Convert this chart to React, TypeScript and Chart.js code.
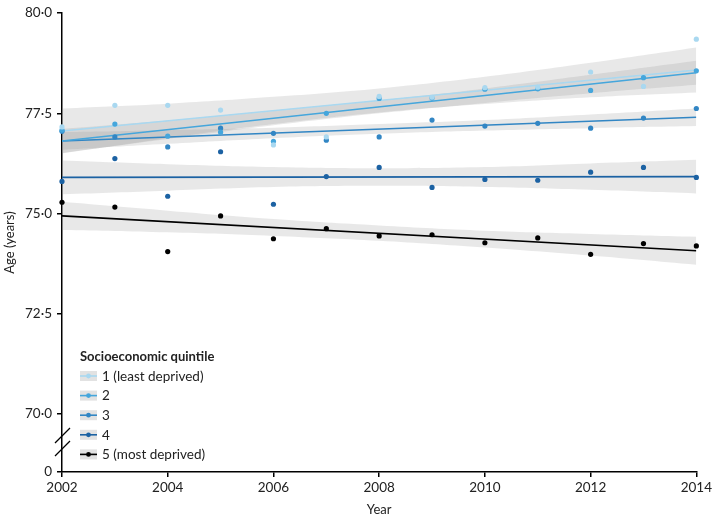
import { useEffect, useRef } from "react";
import { Chart, registerables, type ChartConfiguration, type Plugin } from "chart.js";

Chart.register(...registerables);

const years = [2002, 2003, 2004, 2005, 2006, 2007, 2008, 2009, 2010, 2011, 2012, 2013, 2014];

// observed ages per quintile
const q1 = [77.16, 77.7, 77.7, 77.58, 76.71, 76.91, 77.92, 77.9, 78.14, 78.15, 78.53, 78.17, 79.35];
const q2 = [77.08, 77.23, 76.93, 77.03, 76.8, 77.5, 77.87, 77.88, 78.1, 78.11, 78.07, 78.39, 78.56];
const q3 = [77.05, 76.91, 76.66, 77.13, 77.0, 76.83, 76.91, 77.33, 77.18, 77.25, 77.13, 77.38, 77.62];
const q4 = [75.8, 76.37, 75.43, 76.54, 75.23, 75.92, 76.15, 75.65, 75.85, 75.83, 76.03, 76.15, 75.9];
const q5 = [75.28, 75.16, 74.05, 74.94, 74.37, 74.62, 74.44, 74.47, 74.27, 74.39, 73.98, 74.25, 74.19];

// fitted trend, start and end
const fitYears = [2002, 2014];
const fit1 = [77.06, 78.58];
const fit2 = [76.81, 78.51];
const fit3 = [76.81, 77.4];
const fit4 = [75.9, 75.92];
const fit5 = [74.94, 74.07];

// confidence bands
const bandYears = [2002, 2004, 2006, 2008, 2010, 2012, 2014];
const band1Hi = [77.62, 77.74, 77.91, 78.12, 78.41, 78.76, 79.14];
const band1Lo = [76.5, 76.88, 77.23, 77.52, 77.73, 77.9, 78.02];
const band2Hi = [77.11, 77.32, 77.56, 77.82, 78.12, 78.46, 78.81];
const band2Lo = [76.51, 76.86, 77.2, 77.5, 77.76, 78.0, 78.21];
const band3Hi = [77.03, 77.08, 77.14, 77.23, 77.33, 77.47, 77.62];
const band3Lo = [76.59, 76.74, 76.88, 76.99, 77.07, 77.13, 77.18];
const band4Hi = [76.32, 76.23, 76.16, 76.13, 76.16, 76.25, 76.34];
const band4Lo = [75.48, 75.57, 75.66, 75.69, 75.66, 75.59, 75.5];
const band5Hi = [75.29, 75.07, 74.86, 74.7, 74.57, 74.49, 74.42];
const band5Lo = [74.59, 74.53, 74.44, 74.32, 74.15, 73.95, 73.72];

const legendTitle = "Socioeconomic quintile";
const legendLabels = ["1 (least deprived)", "2", "3", "4", "5 (most deprived)"];
const seriesColors = ["#a9d8f0", "#45a6dc", "#3286c4", "#1c62a3", "#000000"];

const xTicks = [2002, 2004, 2006, 2008, 2010, 2012, 2014];
// bottom value stands in for the broken axis' 0
const yTickValues = [68.55, 70, 72.5, 75, 77.5, 80];
const yTickLabels = ["0", "70·0", "72·5", "75·0", "77·5", "80·0"];

const FONT = "Lato, 'Open Sans', sans-serif";
const BAND = "rgba(140,140,140,0.2)";

const pts = (xs: number[], ys: number[]) => xs.map((x, i) => ({ x, y: ys[i] }));

const groups = [
  { obs: q1, fit: fit1, hi: band1Hi, lo: band1Lo },
  { obs: q2, fit: fit2, hi: band2Hi, lo: band2Lo },
  { obs: q3, fit: fit3, hi: band3Hi, lo: band3Lo },
  { obs: q4, fit: fit4, hi: band4Hi, lo: band4Lo },
  { obs: q5, fit: fit5, hi: band5Hi, lo: band5Lo },
];

const legendAndBreak: Plugin<"line"> = {
  id: "legendAndBreak",
  afterDraw(chart) {
    const ctx = chart.ctx;
    ctx.save();
    // legend
    ctx.fillStyle = "#222";
    ctx.font = `bold 13px ${FONT}`;
    ctx.textBaseline = "middle";
    ctx.textAlign = "left";
    ctx.fillText(legendTitle, 80, 357);
    ctx.font = `13.5px ${FONT}`;
    legendLabels.forEach((label, i) => {
      const y = 376 + i * 19.6;
      ctx.fillStyle = "#e2e2e2";
      ctx.fillRect(80, y - 5, 17, 10);
      ctx.strokeStyle = seriesColors[i];
      ctx.lineWidth = 1.6;
      ctx.beginPath();
      ctx.moveTo(80, y);
      ctx.lineTo(97, y);
      ctx.stroke();
      ctx.fillStyle = seriesColors[i];
      ctx.beginPath();
      ctx.arc(88.5, y, 2.4, 0, Math.PI * 2);
      ctx.fill();
      ctx.fillStyle = "#222";
      ctx.fillText(label, 102, y + 0.5);
    });
    // axis break marks
    const x = chart.chartArea.left;
    ctx.strokeStyle = "#000";
    ctx.lineWidth = 1.3;
    ctx.beginPath();
    ctx.moveTo(x - 7, 443);
    ctx.lineTo(x + 8, 428);
    ctx.moveTo(x - 7, 456);
    ctx.lineTo(x + 8, 441);
    ctx.stroke();
    ctx.restore();
  },
};

export default function App() {
  const canvasRef = useRef<HTMLCanvasElement>(null);

  useEffect(() => {
    const canvas = canvasRef.current;
    if (!canvas) return;

    const datasets: any[] = [];
    groups.forEach((g, i) => {
      datasets.push({
        data: pts(bandYears, g.hi),
        borderWidth: 0,
        pointRadius: 0,
        fill: false,
        tension: 0.4,
        order: 3,
      });
      datasets.push({
        data: pts(bandYears, g.lo),
        borderWidth: 0,
        pointRadius: 0,
        fill: "-1",
        backgroundColor: BAND,
        tension: 0.4,
        order: 3,
      });
    });
    groups.forEach((g, i) => {
      datasets.push({
        data: pts(fitYears, g.fit),
        borderColor: seriesColors[i],
        borderWidth: 1.6,
        pointRadius: 0,
        fill: false,
        order: 2,
      });
      datasets.push({
        data: pts(years, g.obs),
        showLine: false,
        pointRadius: 2.6,
        pointBorderWidth: 0,
        pointBackgroundColor: seriesColors[i],
        fill: false,
        clip: false,
        order: 1,
      });
    });

    const config: ChartConfiguration<"line"> = {
      type: "line",
      data: { datasets },
      options: {
        responsive: true,
        maintainAspectRatio: false,
        animation: false,
        layout: { padding: { top: 7.5, right: 16, left: 0, bottom: 0 } },
        plugins: { legend: { display: false }, tooltip: { enabled: false } },
        scales: {
          x: {
            type: "linear",
            min: 2002,
            max: 2014,
            afterBuildTicks: (s) => {
              s.ticks = xTicks.map((value) => ({ value }));
            },
            afterFit: (s) => {
              s.height = 46;
            },
            ticks: {
              color: "#222",
              padding: 3,
              font: { family: FONT, size: 13.5 },
              callback: (v) => String(v),
              autoSkip: false,
              maxRotation: 0,
            },
            grid: { drawOnChartArea: false, drawTicks: true, tickLength: 5, color: "#000", lineWidth: 1.5 },
            border: { display: true, color: "#000", width: 1.5 },
            title: {
              display: true,
              text: "Year",
              color: "#222",
              font: { family: FONT, size: 13 },
              padding: { top: 0, bottom: 0 },
            },
          },
          y: {
            type: "linear",
            min: yTickValues[0],
            max: 80,
            afterBuildTicks: (s) => {
              s.ticks = yTickValues.map((value) => ({ value }));
            },
            afterFit: (s) => {
              s.width = 62;
            },
            ticks: {
              color: "#222",
              padding: 5,
              font: { family: FONT, size: 13.5 },
              callback: (_v, i) => yTickLabels[i],
              autoSkip: false,
            },
            grid: { drawOnChartArea: false, drawTicks: true, tickLength: 5, color: "#000", lineWidth: 1.5 },
            border: { display: true, color: "#000", width: 1.5 },
            title: {
              display: true,
              text: "Age (years)",
              color: "#222",
              font: { family: FONT, size: 13 },
              padding: { top: 2, bottom: 0 },
            },
          },
        },
      },
      plugins: [legendAndBreak],
    };

    const chart = new Chart(canvas, config);
    return () => chart.destroy();
  }, []);

  return (
    <div style={{ position: "fixed", left: 0, top: 0, width: 715, height: 518, background: "#fff" }}>
      <canvas ref={canvasRef} />
    </div>
  );
}
